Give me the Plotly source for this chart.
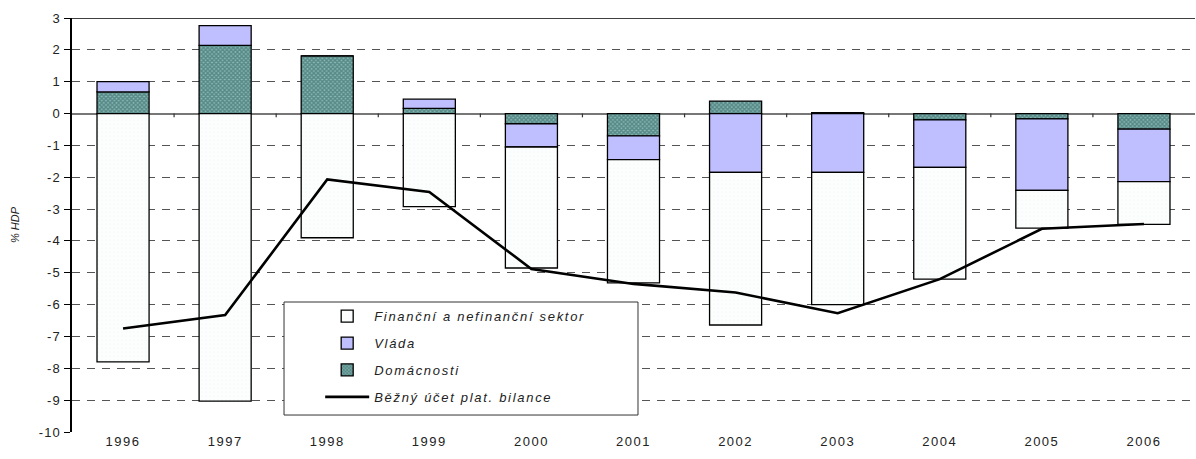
import plotly.graph_objects as go

years = ["1996", "1997", "1998", "1999", "2000", "2001", "2002", "2003", "2004", "2005", "2006"]
financni = [-7.80, -9.03, -3.90, -2.92, -3.80, -3.87, -4.79, -4.15, -3.51, -1.19, -1.34]
vlada = [0.32, 0.62, 0.0, 0.29, -0.73, -0.75, -1.85, -1.85, -1.49, -2.24, -1.65]
domacnosti = [0.68, 2.14, 1.81, 0.16, -0.32, -0.70, 0.39, 0.03, -0.20, -0.17, -0.49]
bezny_ucet = [-6.75, -6.33, -2.07, -2.46, -4.88, -5.35, -5.62, -6.27, -5.20, -3.62, -3.47]
y_ticks = list(range(-10, 4))

FONT = "Liberation Sans, Arial, sans-serif"
outline = dict(color="black", width=1.3)

fig = go.Figure()
fig.add_trace(go.Bar(
    x=years, y=domacnosti, name="Domácnosti", legendrank=3, legendgroup="d",
    marker=dict(color="#7FAAA7", line=outline,
                pattern=dict(shape="x", fgcolor="#1F5A57", bgcolor="#8DB9B6", size=3, solidity=0.7)),
))
fig.add_trace(go.Bar(
    x=years, y=vlada, name="Vláda", legendrank=2, legendgroup="v",
    marker=dict(color="#BFBFFF", line=outline),
))
fig.add_trace(go.Bar(
    x=years, y=financni, name="Finanční a nefinanční sektor", legendrank=1, legendgroup="f",
    marker=dict(color="#FAFDFD", line=outline,
                pattern=dict(shape=".", fgcolor="#EAF3F3", bgcolor="#FCFEFE", size=4, solidity=0.15)),
))
fig.add_trace(go.Scatter(
    x=years, y=bezny_ucet, name="Běžný účet plat. bilance", legendrank=4, legendgroup="b",
    mode="lines", line=dict(color="black", width=2.6),
))

fig.update_layout(
    barmode="relative",
    bargap=0.49,
    width=1196, height=459,
    margin=dict(l=72, r=1, t=18, b=27),
    paper_bgcolor="white", plot_bgcolor="white",
    font=dict(family=FONT, size=12, color="#222"),
    showlegend=True,
    legend=dict(
        x=0.221, y=0.316, xanchor="left", yanchor="top",
        bgcolor="rgba(0,0,0,0)", borderwidth=0,
        font=dict(family=FONT, size=13, color="#222", style="italic"),
        tracegroupgap=7, itemwidth=44,
        traceorder="grouped",
    ),
    xaxis=dict(
        showgrid=False, showline=False, ticks="", zeroline=False, automargin=False,
        tickfont=dict(family=FONT, size=13, color="#222"),
        range=[-0.5, 10.5],
    ),
    yaxis=dict(
        range=[-10, 3], tickvals=y_ticks, ticktext=[str(v) for v in y_ticks],
        automargin=False,
        showgrid=True, gridcolor="#555", gridwidth=1, griddash="8px,7px",
        zeroline=True, zerolinecolor="#777", zerolinewidth=1.5,
        showline=True, linecolor="black", linewidth=1.5,
        ticks="outside", ticklen=6, tickcolor="black", ticklabelstandoff=1,
        tickfont=dict(family=FONT, size=13, color="#222"),
        title=dict(text="% HDP", font=dict(family=FONT, size=11, color="#222", style="italic"), standoff=20),
    ),
)

# top border line at y=3
fig.add_shape(type="line", xref="paper", yref="y", x0=0, x1=1, y0=3, y1=3,
              line=dict(color="black", width=1.5))
# small category-boundary ticks on the zero line
for i in range(len(years) - 1):
    fig.add_shape(type="line", xref="x", yref="y", x0=i + 0.5, x1=i + 0.5, y0=0, y1=-0.12,
                  line=dict(color="#333", width=1.2))
# legend frame (white box covering gridlines)
fig.add_shape(type="rect", xref="paper", yref="paper", x0=0.1888, x1=0.504, y0=0.041, y1=0.314,
              layer="above", fillcolor="white", line=dict(color="#333", width=1))

post = ("document.body.style.margin='0';"
        "var s=document.createElement('style');"
        "s.innerHTML='.legendtext{letter-spacing:1.7px} .xtick text{letter-spacing:1.5px} "
        ".ytick text{letter-spacing:1px} g.legend g.scrollbox{clip-path:none !important}';"
        "document.head.appendChild(s);")
fig.write_html("out.html", post_script=post, config={"displayModeBar": False})
